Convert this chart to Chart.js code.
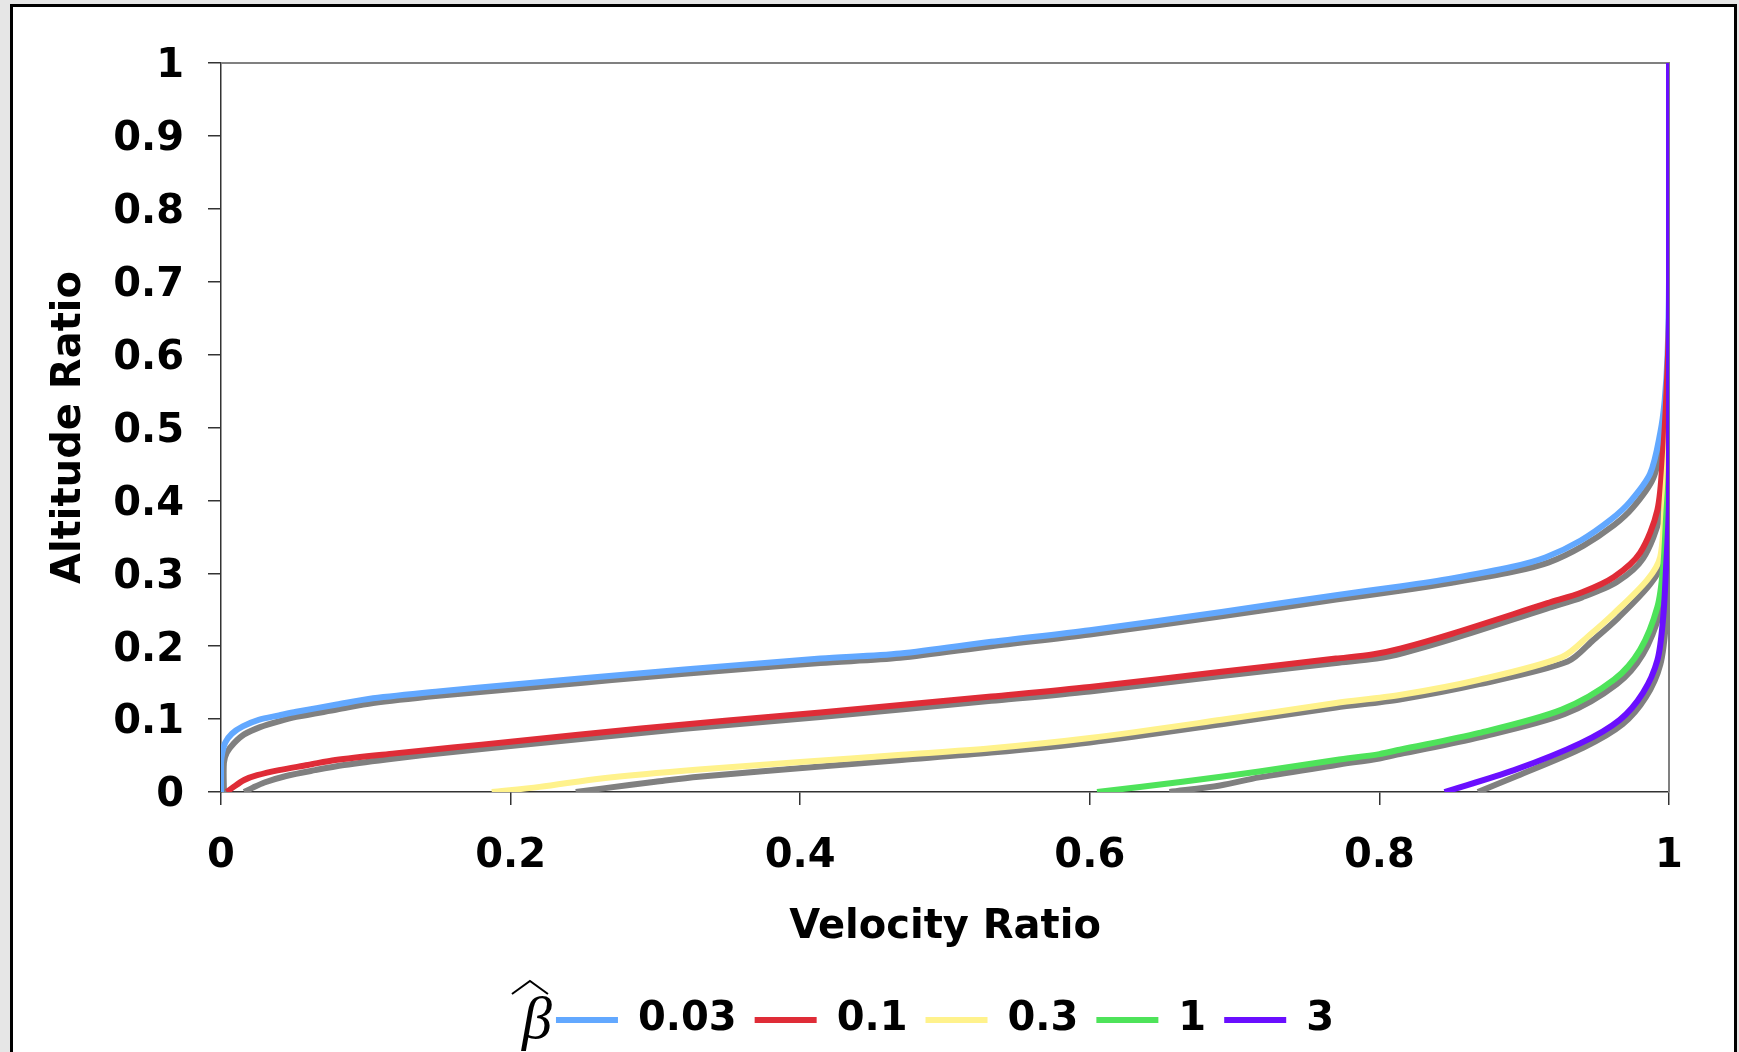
<!DOCTYPE html>
<html>
<head>
<meta charset="utf-8">
<title>Altitude Ratio vs Velocity Ratio</title>
<script src="https://cdn.jsdelivr.net/npm/chart.js"></script>
<style>
  html, body { margin: 0; padding: 0; overflow: hidden; background: #e6e6e6; }
  #frame { position: absolute; left: 10px; top: 4px; width: 1727px; height: 1100px;
           box-sizing: border-box; border: 3px solid #000; background: #fff; }
  #chart { position: absolute; left: 0; top: 0; }
</style>
</head>
<body>
<div id="frame"></div>
<canvas id="chart" width="1739" height="1052"></canvas>
<script>
// beta-hat values shown in the legend
const betaLabels = ['0.03', '0.1', '0.3', '1', '3'];
const lineColors = ['#62a8ff', '#df2c37', '#fff28c', '#4ee35a', '#6a0fff'];

const xTickLabels = ['0', '0.2', '0.4', '0.6', '0.8', '1'];
const yTickLabels = ['0', '0.1', '0.2', '0.3', '0.4', '0.5', '0.6', '0.7', '0.8', '0.9', '1'];

// [velocity ratio, altitude ratio]
const beta003 = [[0,0],[0,0.04],[0.001,0.055],[0.003,0.068],[0.0075,0.08],[0.015,0.09],[0.026,0.099],
  [0.04,0.105],[0.052,0.11],[0.08,0.12],[0.105,0.1285],[0.15,0.138],[0.2,0.147],[0.25,0.156],[0.29,0.163],
  [0.35,0.173],[0.414,0.183],[0.469,0.19],[0.532,0.206],[0.6,0.222],[0.691,0.247],[0.77,0.27],[0.814,0.282],
  [0.85,0.293],[0.892,0.309],[0.915,0.322],[0.939,0.345],[0.96,0.374],[0.973,0.398],[0.987,0.437],[0.994,0.493],
  [0.997,0.537],[0.999,0.6],[1,0.7],[1,1]];
const beta01 = [[0.004,0],[0.008,0.006],[0.016,0.0165],[0.025,0.023],[0.04,0.03],[0.06,0.037],[0.079,0.044],
  [0.12,0.053],[0.16,0.061],[0.2,0.069],[0.29,0.087],[0.35,0.098],[0.414,0.109],[0.532,0.131],[0.6,0.144],
  [0.691,0.165],[0.77,0.183],[0.796,0.189],[0.815,0.197],[0.85,0.217],[0.916,0.259],[0.94,0.274],[0.962,0.295],
  [0.98,0.328],[0.992,0.387],[0.996,0.469],[0.998,0.537],[1,0.65],[1,1]];
const beta03 = [[0.187,0],[0.22,0.007],[0.264,0.019],[0.33,0.031],[0.4,0.041],[0.47,0.051],[0.532,0.06],
  [0.6,0.074],[0.691,0.099],[0.77,0.122],[0.814,0.133],[0.869,0.154],[0.926,0.185],[0.945,0.215],[0.962,0.245],
  [0.985,0.291],[0.994,0.323],[0.997,0.4],[1,0.5],[1,1]];
const beta1 = [[0.605,0],[0.664,0.014],[0.717,0.028],[0.77,0.044],[0.8,0.052],[0.814,0.058],[0.869,0.081],
  [0.926,0.113],[0.962,0.154],[0.98,0.195],[0.992,0.254],[0.996,0.309],[0.998,0.377],[1,0.45],[1,1]];
const beta3 = [[0.845,0],[0.893,0.03],[0.939,0.067],[0.966,0.099],[0.982,0.136],[0.992,0.181],[0.996,0.24],
  [0.998,0.309],[1,0.4],[1,1]];

// grey companion curves lying just under each coloured one
const grey003 = [[0.002,0],[0.002,0.04],[0.004,0.054],[0.009,0.067],[0.016,0.079],[0.027,0.089],[0.04,0.097],
  [0.052,0.103],[0.08,0.113],[0.105,0.122],[0.15,0.132],[0.2,0.141],[0.25,0.15],[0.29,0.157],[0.35,0.167],
  [0.414,0.177],[0.469,0.184],[0.532,0.2],[0.6,0.216],[0.691,0.241],[0.77,0.264],[0.814,0.276],[0.85,0.287],
  [0.892,0.302],[0.917,0.315],[0.941,0.338],[0.962,0.366],[0.975,0.39],[0.989,0.43],[0.996,0.487],[0.999,0.535],
  [1,0.6],[1,1]];
const grey01 = [[0.016,0],[0.022,0.006],[0.03,0.013],[0.045,0.022],[0.065,0.03],[0.085,0.037],[0.12,0.046],
  [0.16,0.055],[0.2,0.063],[0.29,0.081],[0.35,0.092],[0.414,0.103],[0.532,0.125],[0.6,0.138],[0.691,0.159],
  [0.77,0.177],[0.798,0.183],[0.817,0.191],[0.852,0.211],[0.916,0.252],[0.94,0.267],[0.964,0.288],[0.982,0.32],
  [0.994,0.38],[0.998,0.46],[0.999,0.53],[1,0.65],[1,1]];
const grey03 = [[0.245,0],[0.264,0.005],[0.3,0.014],[0.33,0.021],[0.414,0.035],[0.47,0.044],[0.532,0.054],
  [0.6,0.068],[0.691,0.093],[0.77,0.116],[0.814,0.127],[0.869,0.148],[0.93,0.179],[0.948,0.209],[0.965,0.239],
  [0.987,0.285],[0.996,0.318],[0.998,0.4],[1,0.5],[1,1]];
const grey1 = [[0.655,0],[0.69,0.009],[0.717,0.02],[0.77,0.037],[0.8,0.046],[0.814,0.052],[0.869,0.075],
  [0.928,0.107],[0.964,0.148],[0.982,0.189],[0.994,0.248],[0.998,0.303],[0.999,0.37],[1,0.45],[1,1]];
const grey3 = [[0.868,0],[0.895,0.022],[0.941,0.061],[0.968,0.093],[0.984,0.13],[0.994,0.175],[0.998,0.235],
  [0.999,0.303],[1,0.4],[1,1]];

const colouredSeries = [beta003, beta01, beta03, beta1, beta3];
const greySeries = [grey003, grey01, grey03, grey1, grey3];

const FONT = { family: '"DejaVu Sans", Verdana, sans-serif', size: 40, weight: 'bold' };
const toPoints = arr => arr.map(p => ({ x: p[0], y: p[1] }));

const datasets = [];
betaLabels.forEach((lab, i) => {
  datasets.push({
    label: lab,
    data: toPoints(colouredSeries[i]),
    borderColor: lineColors[i],
    backgroundColor: lineColors[i],
    borderWidth: 6,
    order: 4 - i            // 3 ends up on top
  });
});
betaLabels.forEach((lab, i) => {
  datasets.push({
    label: lab + ' grey',
    data: toPoints(greySeries[i]),
    borderColor: '#808080',
    backgroundColor: '#808080',
    borderWidth: 6,
    order: 10 + i,
    grey: true
  });
});

// grey top/right edges of the plot box
const plotFrame = {
  id: 'plotFrame',
  beforeDatasetsDraw(chart) {
    const { ctx, chartArea: a } = chart;
    ctx.save();
    ctx.strokeStyle = '#808080';
    ctx.lineWidth = 2;
    ctx.beginPath();
    ctx.moveTo(a.left, a.top);
    ctx.lineTo(a.right, a.top);
    ctx.lineTo(a.right, a.bottom);
    ctx.stroke();
    ctx.restore();
  }
};

// the beta-hat symbol in front of the legend
const betaHat = {
  id: 'betaHat',
  afterDraw(chart) {
    const box = chart.legend.legendHitBoxes[0];
    if (!box) return;
    const { ctx } = chart;
    const yc = box.top + box.height / 2;
    const x = box.left;
    ctx.save();
    ctx.fillStyle = '#000';
    ctx.font = 'italic 60px "Liberation Serif", "DejaVu Serif", serif';
    ctx.textAlign = 'right';
    ctx.textBaseline = 'alphabetic';
    ctx.fillText('β', x - 4, yc + 18);
    ctx.strokeStyle = '#000';
    ctx.lineWidth = 2;
    ctx.beginPath();
    ctx.moveTo(x - 44, yc - 26);
    ctx.lineTo(x - 26, yc - 39);
    ctx.lineTo(x - 8, yc - 26);
    ctx.stroke();
    ctx.restore();
  }
};

new Chart(document.getElementById('chart'), {
  type: 'scatter',
  data: { datasets },
  plugins: [plotFrame, betaHat],
  options: {
    responsive: false,
    animation: false,
    showLine: true,
    elements: {
      point: { radius: 0, hoverRadius: 0 },
      line: { tension: 0.3, borderJoinStyle: 'round', borderCapStyle: 'butt', fill: false }
    },
    layout: { padding: { top: 63, right: 70, bottom: 2, left: 0 } },
    plugins: {
      tooltip: { enabled: false },
      legend: {
        position: 'bottom',
        fullSize: false,
        labels: {
          color: '#000',
          font: FONT,
          padding: 18,
          usePointStyle: true,
          pointStyle: 'line',
          pointStyleWidth: 62,
          filter: (item, data) => !data.datasets[item.datasetIndex].grey,
          sort: (a, b) => a.datasetIndex - b.datasetIndex
        }
      }
    },
    scales: {
      x: {
        type: 'linear',
        min: 0, max: 1,
        afterFit: s => { s.height = 190; },
        border: { color: '#333', width: 1.5 },
        grid: { drawOnChartArea: false, tickLength: 13, color: '#333', lineWidth: 1.5 },
        ticks: {
          stepSize: 0.2, color: '#000', font: FONT, padding: 28, maxRotation: 0,
          callback: (v, i) => xTickLabels[i]
        },
        title: { display: true, text: 'Velocity Ratio', color: '#000', font: FONT, padding: { top: 0, bottom: 30 } }
      },
      y: {
        min: 0, max: 1,
        afterFit: s => { s.width = 221; },
        border: { color: '#333', width: 1.5 },
        grid: { drawOnChartArea: false, tickLength: 13, color: '#333', lineWidth: 1.5 },
        ticks: {
          stepSize: 0.1, color: '#000', font: FONT, padding: 24, labelOffset: 4,
          callback: (v, i) => yTickLabels[i]
        },
        title: { display: true, text: 'Altitude Ratio', color: '#000', font: FONT, padding: { top: 46, bottom: 0 } }
      }
    }
  }
});
</script>
</body>
</html>
